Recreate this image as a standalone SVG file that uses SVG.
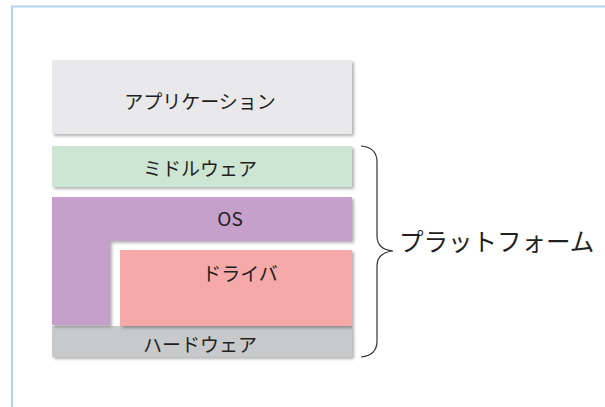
<svg xmlns="http://www.w3.org/2000/svg" width="605" height="407" viewBox="0 0 605 407">
<style>
.lbl{font-family:"Noto Sans CJK JP","Noto Sans",sans-serif;font-size:19px;fill:#231f20;text-anchor:middle;dominant-baseline:central}
.big{font-family:"Noto Sans CJK JP","Noto Sans",sans-serif;font-size:24.5px;fill:#231f20;dominant-baseline:central}
</style>
<defs>
<filter id="sh" x="-10%" y="-20%" width="130%" height="150%">
<feDropShadow dx="2" dy="2" stdDeviation="1.5" flood-color="#000" flood-opacity="0.3"/>
</filter>
</defs>
<rect width="605" height="407" fill="#ffffff"/>
<path d="M12,407 V6.5 H605" fill="none" stroke="#b3d1ef" stroke-width="2"/>
<g id="hardware">
<rect x="52" y="326" width="300" height="31" fill="#c8c9cb" filter="url(#sh)"/>
<text class="lbl" x="200" y="343">ハードウェア</text>
</g>
<g id="application">
<rect x="52" y="60" width="300" height="74" fill="#e9e9eb" filter="url(#sh)"/>
<text class="lbl" x="200" y="100">アプリケーション</text>
</g>
<g id="middleware">
<rect x="52" y="146" width="300" height="41" fill="#cde6d4" filter="url(#sh)"/>
<text class="lbl" x="200" y="167">ミドルウェア</text>
</g>
<g id="os">
<path d="M52,197 H352 V241 H110 V325 H52 Z" fill="#c4a0ca" filter="url(#sh)"/>
<text class="lbl" x="230" y="217">OS</text>
</g>
<g id="driver">
<rect x="120" y="250" width="232" height="76" fill="#f5a9a9" filter="url(#sh)"/>
<text class="lbl" x="240" y="272">ドライバ</text>
</g>
<g id="connectors">
<path d="M361,146 C372,147 377,152 377,162 V236 C377,246 383,250 393,251 C383,252 377,256 377,266 V341 C377,351 372,356 361,357" fill="none" stroke="#333333" stroke-width="1.2"/>
</g>
<g id="platform">
<text class="big" x="399" y="240">プラットフォーム</text>
</g>
</svg>
